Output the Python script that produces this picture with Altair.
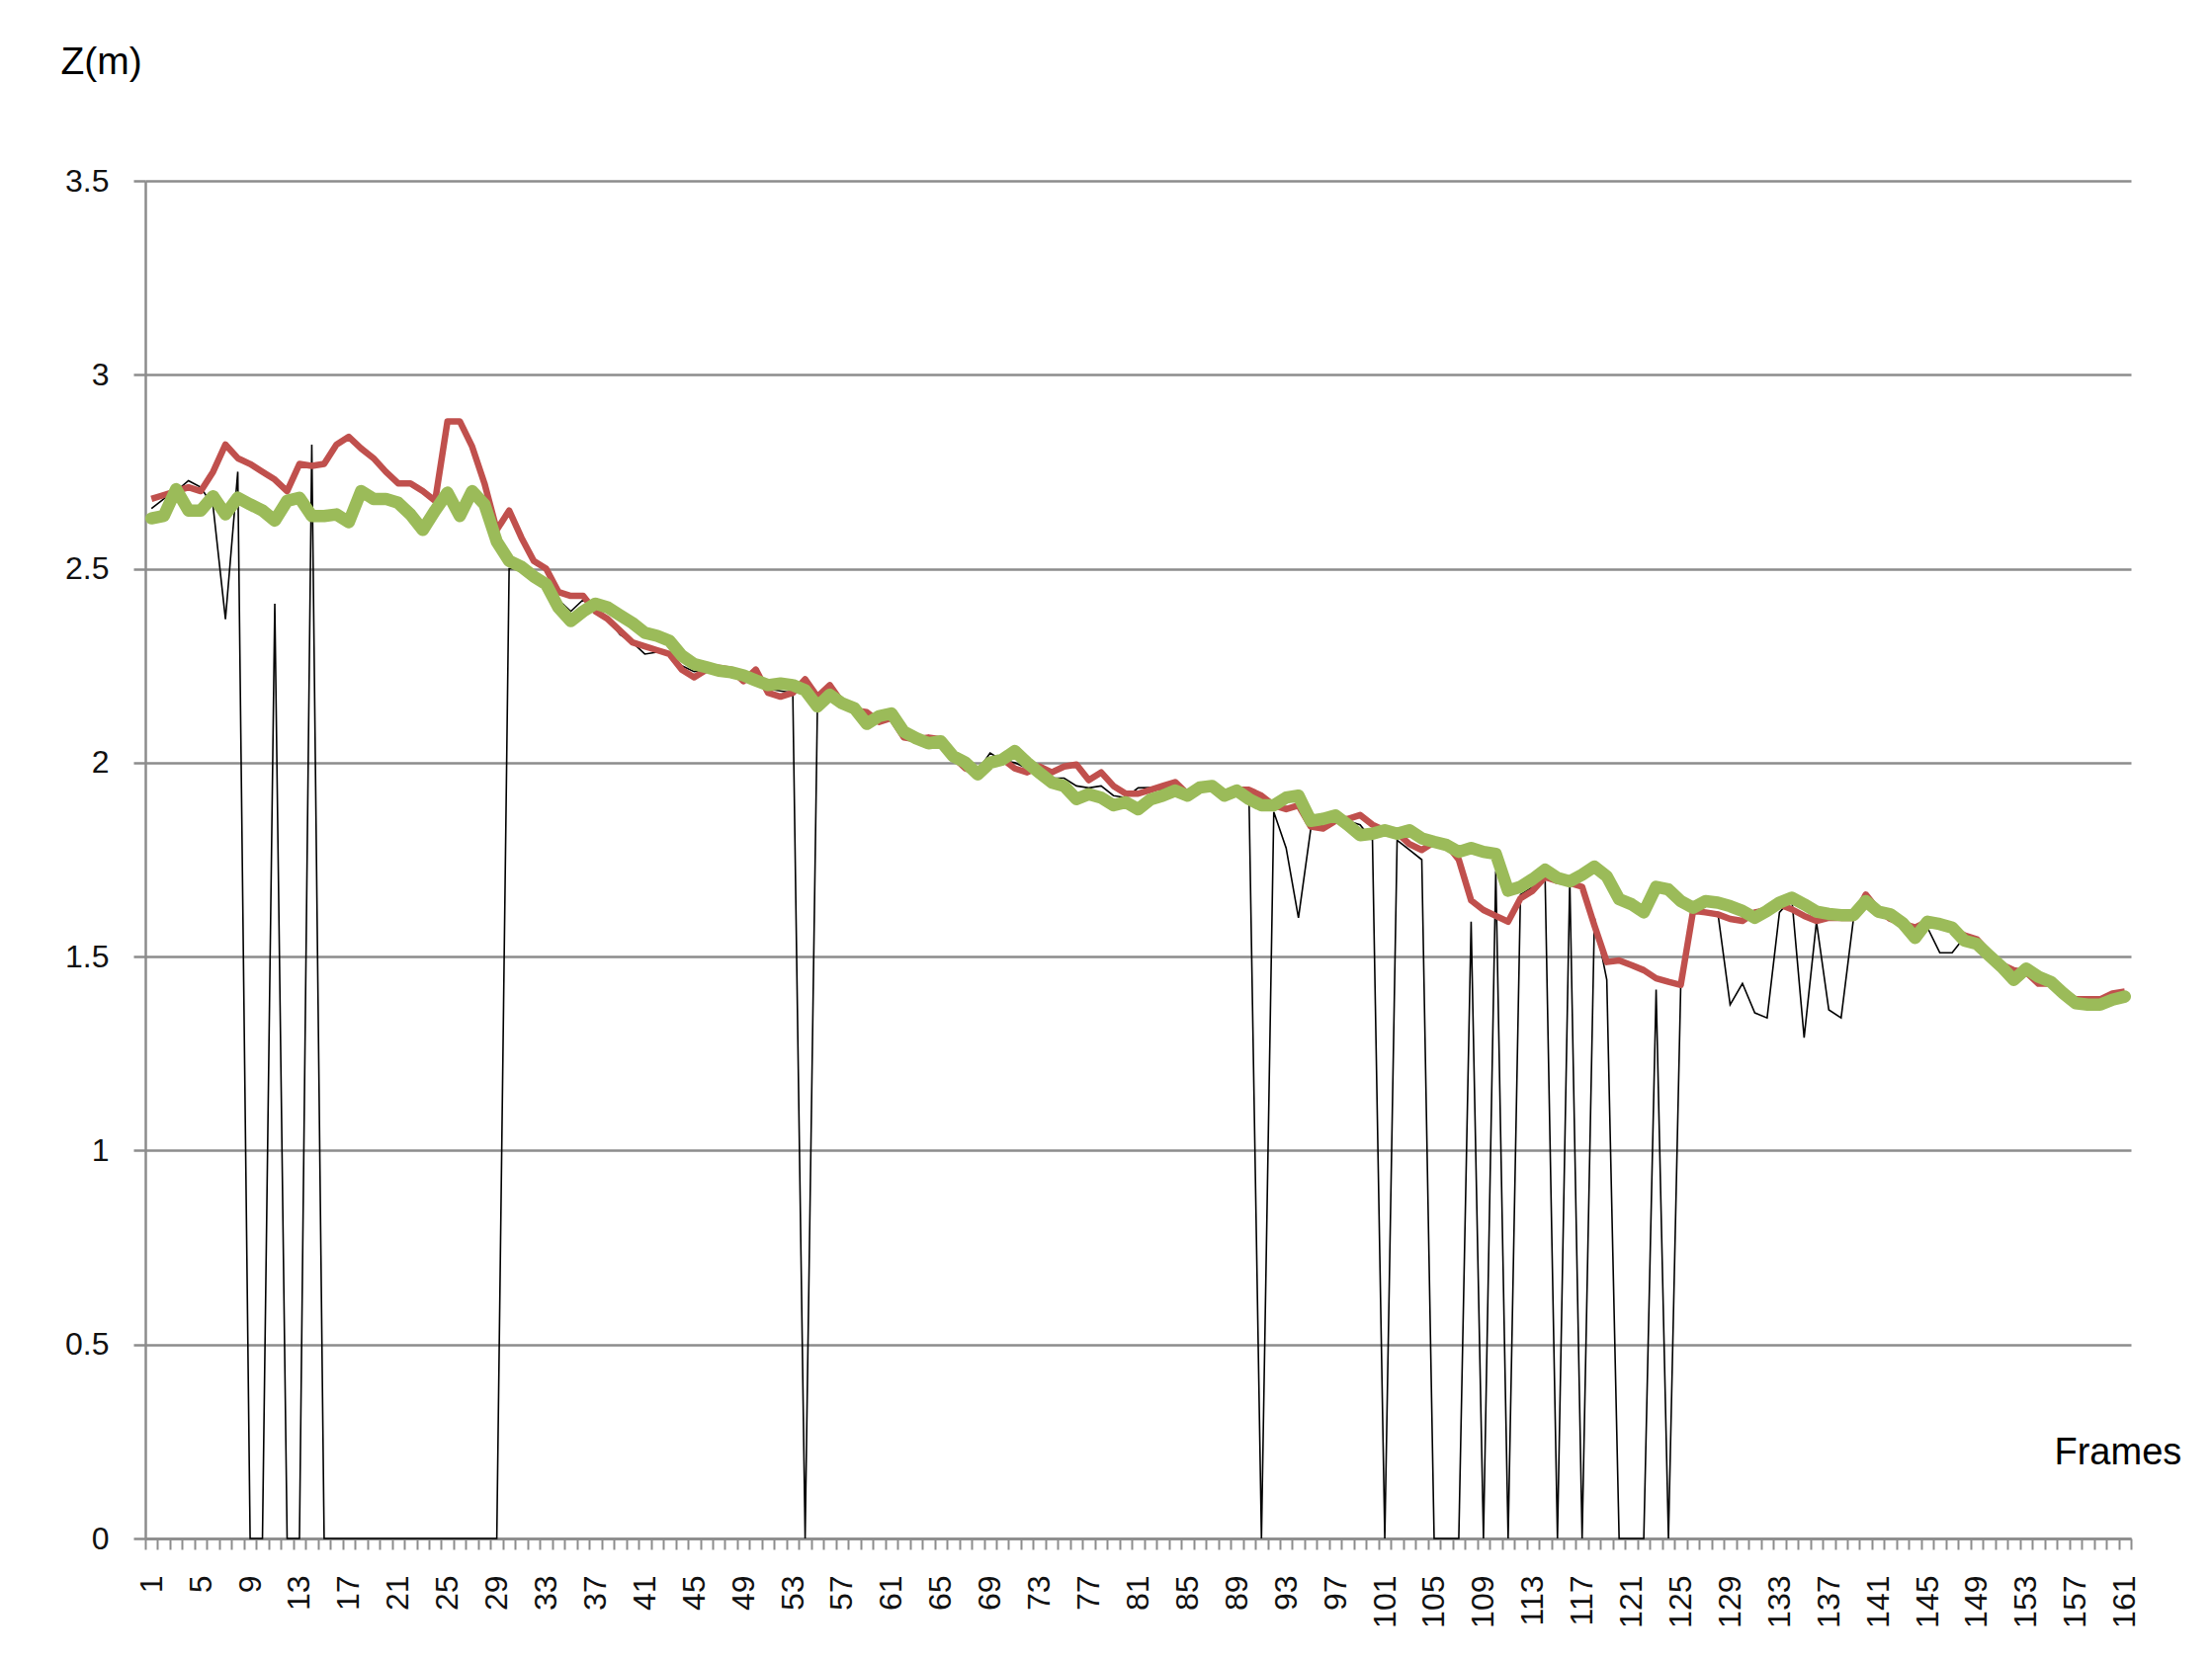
import altair as alt
import pandas as pd

frames = list(range(1, 162))

red = [2.68, 2.69, 2.70, 2.71, 2.70, 2.75, 2.82, 2.785, 2.77, 2.75,
       2.73, 2.70, 2.77, 2.765, 2.77, 2.82, 2.84, 2.81, 2.785, 2.75,
       2.72, 2.72, 2.70, 2.675, 2.88, 2.88, 2.815, 2.72, 2.60, 2.65,
       2.58, 2.52, 2.50, 2.44, 2.43, 2.43, 2.39, 2.37, 2.34, 2.31,
       2.30, 2.29, 2.28, 2.24, 2.22, 2.24, 2.245, 2.24, 2.21, 2.24,
       2.18, 2.17, 2.18, 2.215, 2.17, 2.20, 2.155, 2.135, 2.13, 2.105,
       2.115, 2.065, 2.06, 2.065, 2.06, 2.015, 1.985, 1.975, 1.995, 2.01,
       1.985, 1.975, 1.99, 1.975, 1.99, 1.995, 1.955, 1.975, 1.94, 1.92,
       1.92, 1.93, 1.94, 1.95, 1.92, 1.93, 1.94, 1.915, 1.93, 1.93,
       1.915, 1.89, 1.88, 1.89, 1.835, 1.83, 1.85, 1.855, 1.865, 1.84,
       1.825, 1.82, 1.79, 1.775, 1.795, 1.79, 1.75, 1.645, 1.62, 1.605,
       1.59, 1.65, 1.67, 1.705, 1.695, 1.69, 1.68, 1.58, 1.486, 1.49,
       1.478, 1.465, 1.444, 1.435, 1.427, 1.618, 1.614, 1.609, 1.597, 1.592,
       1.614, 1.62, 1.635, 1.622, 1.605, 1.592, 1.60, 1.60, 1.60, 1.66,
       1.62, 1.597, 1.585, 1.575, 1.59, 1.58, 1.57, 1.555, 1.545, 1.51,
       1.48, 1.465, 1.46, 1.43, 1.43, 1.41, 1.39, 1.39, 1.39, 1.405,
       1.41]

green = [2.63, 2.636, 2.705, 2.65, 2.65, 2.687, 2.64, 2.683, 2.666, 2.65,
         2.624, 2.675, 2.683, 2.636, 2.636, 2.64, 2.62, 2.70, 2.68, 2.68,
         2.67, 2.64, 2.60, 2.65, 2.696, 2.636, 2.70, 2.666, 2.57, 2.52,
         2.505, 2.48, 2.46, 2.40, 2.365, 2.39, 2.41, 2.40, 2.38, 2.36,
         2.335, 2.327, 2.314, 2.276, 2.254, 2.246, 2.237, 2.233, 2.225, 2.212,
         2.20, 2.204, 2.20, 2.187, 2.145, 2.175, 2.153, 2.14, 2.10, 2.12,
         2.127, 2.08, 2.063, 2.05, 2.055, 2.017, 2.0, 1.97, 2.0, 2.008,
         2.03, 2.0, 1.974, 1.949, 1.94, 1.906, 1.919, 1.91, 1.89, 1.898,
         1.88, 1.905, 1.915, 1.928, 1.915, 1.936, 1.94, 1.915, 1.928, 1.906,
         1.89, 1.89, 1.91, 1.915, 1.85, 1.855, 1.864, 1.84, 1.813, 1.817,
         1.826, 1.817, 1.826, 1.805, 1.796, 1.788, 1.77, 1.78, 1.77, 1.765,
         1.67, 1.68, 1.70, 1.724, 1.703, 1.694, 1.711, 1.732, 1.707, 1.648,
         1.635, 1.614, 1.68, 1.673, 1.643, 1.626, 1.643, 1.639, 1.63, 1.618,
         1.60, 1.618, 1.639, 1.652, 1.635, 1.616, 1.61, 1.607, 1.607, 1.643,
         1.616, 1.609, 1.586, 1.548, 1.59, 1.584, 1.575, 1.541, 1.533, 1.503,
         1.474, 1.44, 1.469, 1.448, 1.435, 1.406, 1.38, 1.376, 1.376, 1.389,
         1.397]

black = [2.655, 2.68, 2.70, 2.727, 2.71, 2.66, 2.37, 2.75, 0, 0,
         2.41, 0, 0, 2.82, 0, 0, 0, 0, 0, 0,
         0, 0, 0, 0, 0, 0, 0, 0, 0, 2.50,
         2.50, 2.49, 2.47, 2.42, 2.39, 2.42, 2.40, 2.37, 2.33, 2.31,
         2.28, 2.285, 2.28, 2.25, 2.235, 2.24, 2.24, 2.235, 2.215, 2.23,
         2.19, 2.185, 2.18, 0, 2.15, 2.19, 2.155, 2.135, 2.115, 2.11,
         2.12, 2.07, 2.06, 2.06, 2.055, 2.015, 1.99, 1.98, 2.025, 2.005,
         2.0, 1.985, 1.98, 1.96, 1.96, 1.94, 1.935, 1.94, 1.915, 1.91,
         1.935, 1.936, 1.93, 1.94, 1.92, 1.935, 1.94, 1.915, 1.93, 1.894,
         0, 1.873, 1.78, 1.60, 1.83, 1.84, 1.855, 1.85, 1.84, 1.80,
         0, 1.80, 1.775, 1.75, 0, 0, 0, 1.59, 0, 1.72,
         0, 1.66, 1.68, 1.70, 0, 1.70, 0, 1.60, 1.44, 0,
         0, 0, 1.415, 0, 1.43, 1.618, 1.618, 1.614, 1.376, 1.431,
         1.355, 1.342, 1.614, 1.65, 1.291, 1.59, 1.363, 1.342, 1.597, 1.65,
         1.62, 1.60, 1.585, 1.56, 1.575, 1.51, 1.51, 1.55, 1.54, 1.51,
         1.48, 1.45, 1.465, 1.43, 1.43, 1.41, 1.39, 1.385, 1.385, 1.40,
         1.405]

y_ticks = [0, 0.5, 1, 1.5, 2, 2.5, 3, 3.5]
x_tick_positions = [i + 0.5 for i in range(0, 162)]

df_black = pd.DataFrame({"frame": frames, "z": black})
df_red = pd.DataFrame({"frame": frames, "z": red})
df_green = pd.DataFrame({"frame": frames, "z": green})

FONT = "Liberation Sans"
GRID = "#8c8c8c"

x_enc = alt.X(
    "frame:Q",
    scale=alt.Scale(domain=[0.5, 161.5], nice=False, zero=False),
    axis=alt.Axis(
        values=x_tick_positions,
        labelExpr="((datum.value + 0.5) % 4 == 1 && datum.value < 161) ? format(datum.value + 0.5, 'd') : ''",
        labelOffset=6.2,
        labelAngle=-90,
        labelAlign="right",
        labelBaseline="middle",
        labelFontSize=32,
        labelFont=FONT,
        labelColor="#111111",
        labelPadding=26,
        labelOverlap=False,
        labelFlush=False,
        labelBound=False,
        tickSize=11,
        tickColor=GRID,
        tickWidth=2,
        domainColor=GRID,
        domainWidth=2.5,
        grid=False,
        title="Frames",
        titleFont=FONT,
        titleFontSize=38,
        titleFontWeight="normal",
        titleColor="#000000",
        titleAngle=0,
        titleAlign="left",
        titleBaseline="middle",
        titleX=1931,
        titleY=-87,
    ),
)

y_enc = alt.Y(
    "z:Q",
    scale=alt.Scale(domain=[0, 3.5], nice=False),
    axis=alt.Axis(
        values=y_ticks,
        format="~g",
        grid=True,
        gridColor=GRID,
        gridWidth=2.5,
        tickSize=12,
        tickColor=GRID,
        tickWidth=2.5,
        domainColor=GRID,
        domainWidth=2.5,
        labelFontSize=32,
        labelFont=FONT,
        labelColor="#111111",
        labelPadding=25,
        labelFlush=False,
        title="Z(m)",
        titleFont=FONT,
        titleFontSize=39,
        titleFontWeight="normal",
        titleColor="#000000",
        titleAngle=0,
        titleAlign="left",
        titleBaseline="middle",
        titleX=-86,
        titleY=-121,
    ),
)

black_line = alt.Chart(df_black).mark_line(
    color="#000000", strokeWidth=1.6, strokeJoin="miter"
).encode(x=x_enc, y=y_enc)

red_line = alt.Chart(df_red).mark_line(
    color="#C0504D", strokeWidth=6.5, strokeJoin="round"
).encode(x=x_enc, y=y_enc)

green_line = alt.Chart(df_green).mark_line(
    color="#9BBB59", strokeWidth=12.5, strokeJoin="round", strokeCap="round"
).encode(x=x_enc, y=y_enc)

chart = alt.layer(black_line, red_line, green_line).properties(
    width=2009,
    height=1374,
    background="#ffffff",
    autosize=alt.AutoSizeParams(type="none"),
    padding={"left": 139, "top": 175, "right": 60, "bottom": 100},
).configure_view(strokeWidth=0, stroke="transparent")

chart.save("out.html", embed_options={"renderer": "svg", "actions": False})
